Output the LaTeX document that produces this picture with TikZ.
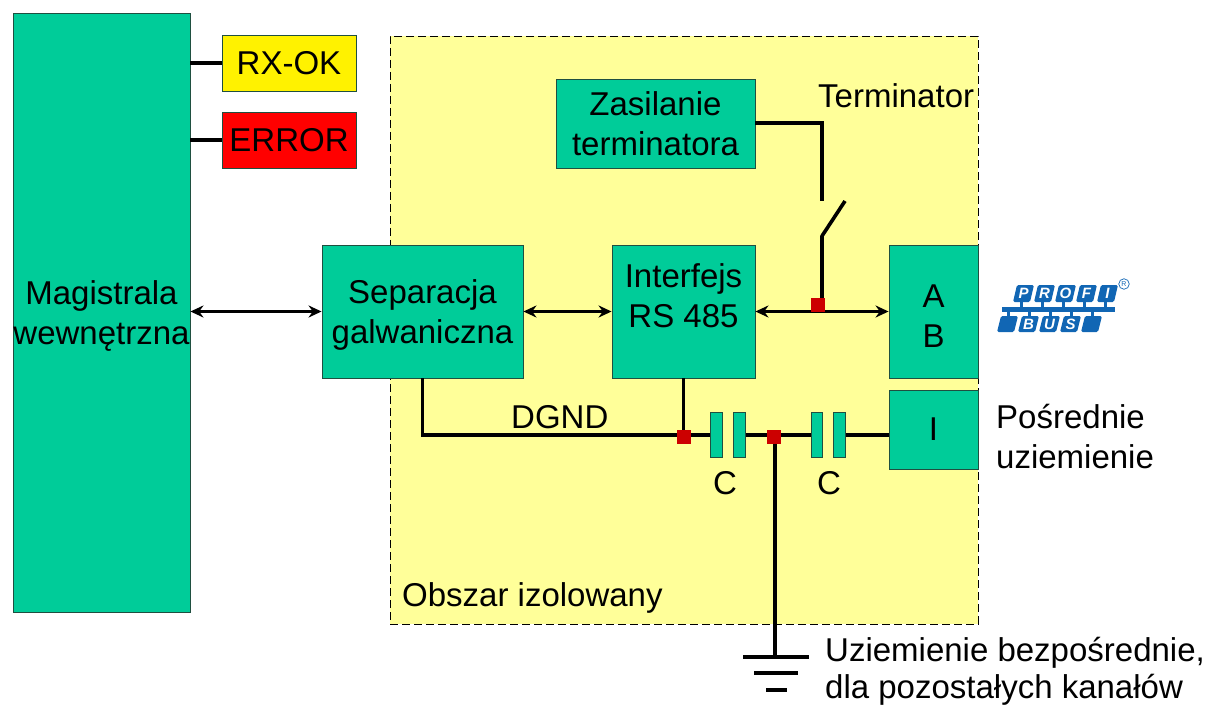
\documentclass[tikz,border=0pt]{standalone}
\usepackage{fontspec}
\setmainfont{Liberation Sans}
\usetikzlibrary{arrows.meta}
\definecolor{boxgreen}{HTML}{00CC99}
\definecolor{zoneyellow}{HTML}{FFFF99}
\definecolor{boxline}{HTML}{1F4F40}
\definecolor{marker}{HTML}{CC0000}
\definecolor{logoblue}{HTML}{1166B4}
\newcommand{\lowertext}{\rule{0pt}{31pt}}
\tikzset{
  box/.style={draw=boxline,line width=.9pt,inner sep=0pt,align=center,text=black,font=\fontsize{33}{40}\selectfont},
  greenbox/.style={box,fill=boxgreen},
  label/.style={inner sep=0pt,align=left,text=black,font=\fontsize{33}{40}\selectfont},
  wire/.style={draw=black,line width=3.6pt},
  bothway/.style={wire,{Stealth[length=13pt,width=12pt]}-{Stealth[length=13pt,width=12pt]}},
  dot/.style={fill=marker,draw=none,minimum size=14pt,inner sep=0pt},
  plate/.style={draw=boxline,line width=.9pt,fill=boxgreen,inner sep=0pt,minimum width=11.5pt,minimum height=45pt},
  gbar/.style={draw=black,line width=3.8pt},
  logoblock/.style={fill=logoblue,rounded corners=1.5pt,draw=none},
  logoletter/.style={inner sep=0pt,text=white,font=\fontsize{15}{15}\selectfont\bfseries\itshape},
}
\begin{document}
\begin{tikzpicture}[x=1pt,y=-1pt]
\useasboundingbox (0,0) rectangle (1208,706);
% isolated zone
\node[draw=black,dash pattern=on 8pt off 4pt,line width=.9pt,fill=zoneyellow,minimum width=588pt,minimum height=588pt,inner sep=0pt] (zone) at (684,330) {};
% boxes
\node[greenbox,minimum width=177pt,minimum height=599pt] (bus) at (101.5,312.5) {\lowertext Magistrala\\wewnętrzna};
\node[box,fill=yellow,minimum width=134pt,minimum height=56pt] (rx) at (289,63) {RX-OK};
\node[box,fill=red,minimum width=134pt,minimum height=56pt] (err) at (289,140) {ERROR};
\node[greenbox,minimum width=199pt,minimum height=89pt] (sup) at (655.5,123.5) {Zasilanie\\terminatora};
\node[greenbox,minimum width=201pt,minimum height=133pt] (sep) at (422.5,311.5) {\lowertext Separacja\\galwaniczna};
\node[greenbox,minimum width=143pt,minimum height=133pt] (rs) at (683.5,311.5) {\lowertext Interfejs\\RS 485\\\mbox{}};
\node[greenbox,minimum width=89pt,minimum height=133pt] (ab) at (933.5,311.5) {\lowertext A\\B};
\node[greenbox,minimum width=89pt,minimum height=79pt] (iso) at (933.5,429.5) {I};
% helper points
\coordinate (gndjoin) at (683.5,435);
\coordinate (midjoin) at (775,435);
\coordinate (busjoin) at (818,305);
\coordinate (swtop) at (822,123);
\coordinate (swopen) at (822,201);
\coordinate (swpivot) at (822,236);
\coordinate (swblade) at (845,201);
\coordinate (swfoot) at (822,305);
\coordinate (gnd1l) at (743,657);
\coordinate (gnd1r) at (809,657);
\coordinate (gnd2l) at (754,673);
\coordinate (gnd2r) at (798,673);
\coordinate (gnd3l) at (766,690);
\coordinate (gnd3r) at (787,690);
\coordinate (gndstem) at (775,657);
% connectors
\draw[wire] (190,63) -- (rx.west);
\draw[wire] (190,140) -- (err.west);
\draw[bothway] (bus.east |- sep.west) -- (sep.west);
\draw[bothway] (sep.east) -- (rs.west);
\draw[bothway] (rs.east) -- (ab.west);
\draw[wire,line join=miter] (sup.east |- swtop) -- (swtop) -- (swopen);
\draw[wire,line join=round] (swfoot) -- (swpivot) -- (swblade);
\draw[wire] (rs.south) -- (gndjoin);
\draw[wire,line join=miter] (sep.south) |- (gndjoin);
% capacitors
\node[plate] (c1a) at (716.5,434.5) {};
\node[plate] (c1b) at (739.5,434.5) {};
\node[plate] (c2a) at (817,434.5) {};
\node[plate] (c2b) at (839.5,434.5) {};
\draw[wire] (gndjoin) -- (c1a.west |- gndjoin);
\draw[wire] (c1b.east |- midjoin) -- (midjoin);
\draw[wire] (midjoin) -- (c2a.west |- midjoin);
\draw[wire] (c2b.east |- midjoin) -- (iso.west |- midjoin);
\draw[wire] (midjoin) -- (gndstem);
% ground
\draw[gbar] (gnd1l) -- (gnd1r);
\draw[gbar] (gnd2l) -- (gnd2r);
\draw[gbar] (gnd3l) -- (gnd3r);
% junction markers
\node[dot] (d1) at (683.5,437) {};
\node[dot] (d2) at (773.5,437) {};
\node[dot] (d3) at (818,305) {};
% labels
\node[label,anchor=base west] (term) at (818,108) {Terminator};
\node[label,anchor=base west] (dgnd) at (511,428) {DGND};
\node[label,anchor=base] (cl1) at (725,494) {C};
\node[label,anchor=base] (cl2) at (829,494) {C};
\node[label,anchor=base west] (obs) at (402,606) {Obszar izolowany};
\node[label,anchor=base west] (po1) at (996,428) {Pośrednie};
\node[label,anchor=base west] (po2) at (996,468) {uziemienie};
\node[label,anchor=base west] (uz1) at (825,661) {Uziemienie bezpośrednie,};
\node[label,anchor=base west] (uz2) at (825,698.5) {dla pozostałych kanałów};
% PROFIBUS logo
\fill[logoblue] (1002,307) rectangle (1115,312);
\foreach \x/\l in {1013/P,1034/R,1055/O,1076/F,1097/I}{
  \fill[logoblock] (\x+4,285) -- (\x+21,285) -- (\x+17,302) -- (\x,302) -- cycle;
  \fill[logoblue] (\x+7,302) rectangle (\x+10,307);
  \node[logoletter] at (\x+10.5,293.5) {\l};
}
\foreach \x/\l in {997/,1018/B,1039/U,1060/S,1081/}{
  \fill[logoblock] (\x+4,316) -- (\x+21,316) -- (\x+17,332) -- (\x,332) -- cycle;
  \fill[logoblue] (\x+10,312) rectangle (\x+13,316);
  \node[logoletter] at (\x+10.5,324) {\l};
}
\node[draw=logoblue,line width=.7pt,circle,inner sep=0pt,minimum size=10.5pt,text=logoblue,font=\fontsize{7}{7}\selectfont] (reg) at (1124,284) {R};
\end{tikzpicture}
\end{document}
